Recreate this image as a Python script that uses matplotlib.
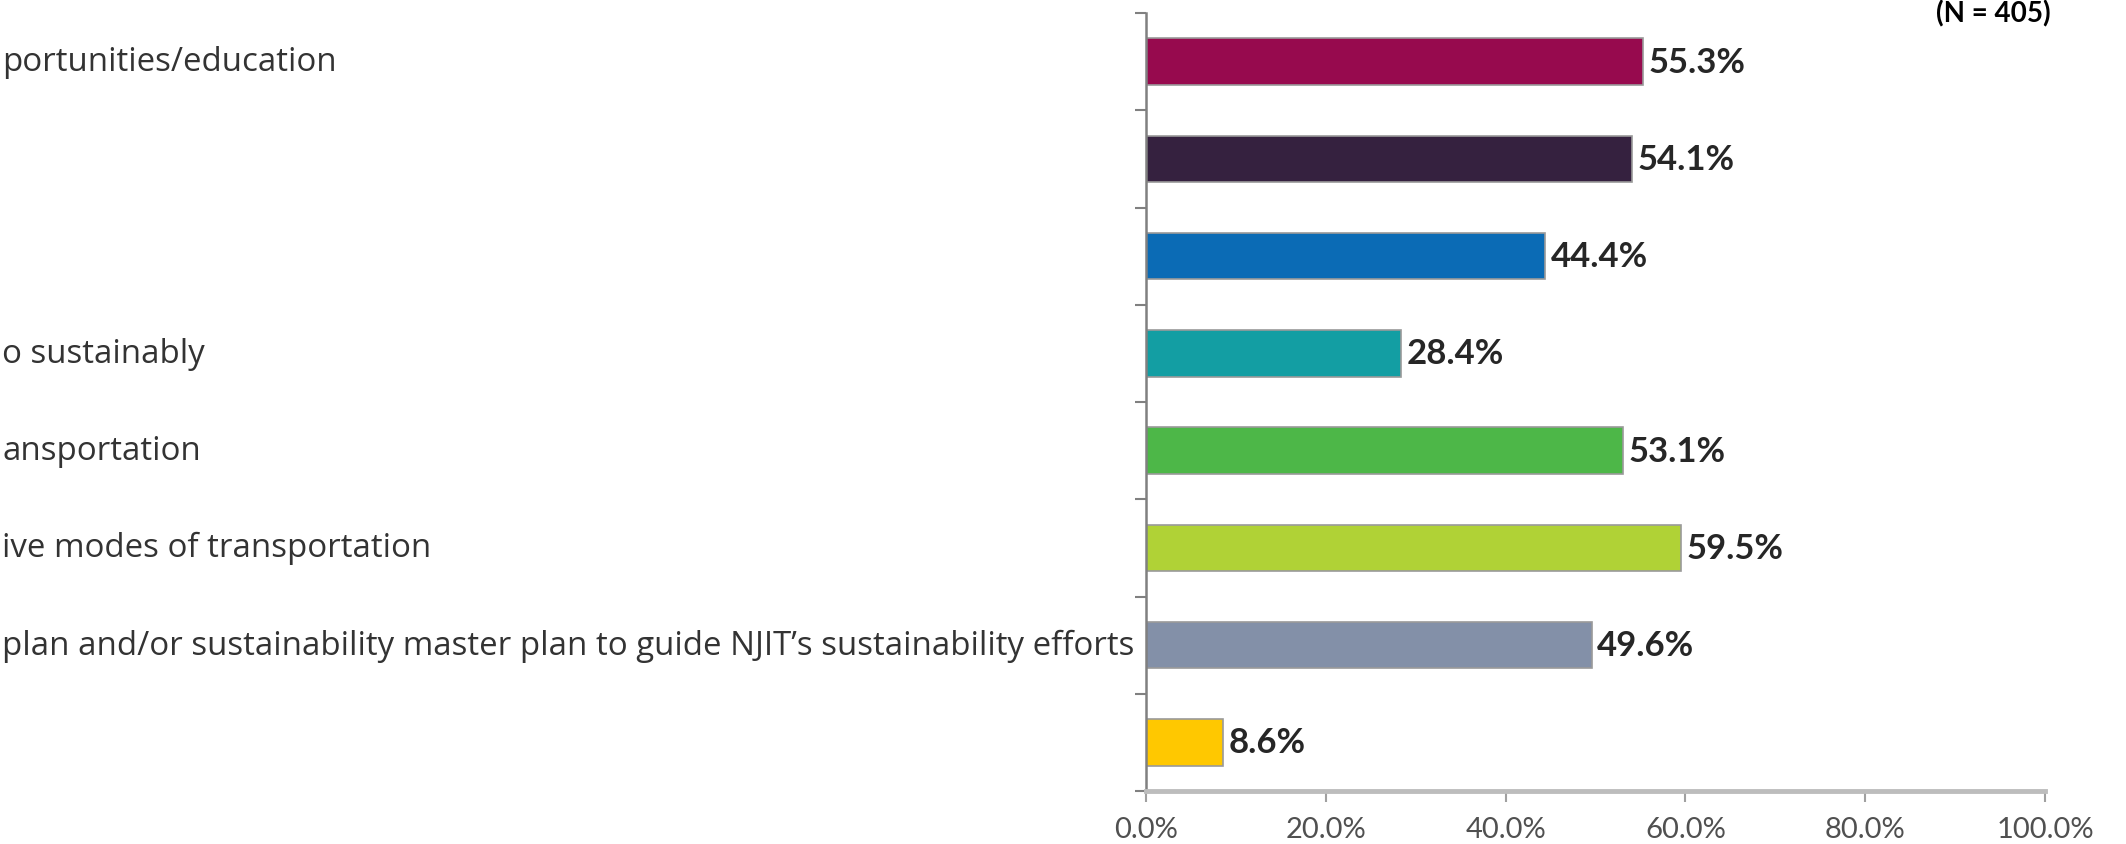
import numpy as np
import matplotlib.pyplot as plt

# Datos (de arriba hacia abajo)
etiquetas = ["portunities/education", "", "", "o sustainably", "ansportation",
             "ive modes of transportation",
             "plan and/or sustainability master plan to guide NJIT\u2019s sustainability efforts",
             ""]
valores = [55.3, 54.1, 44.4, 28.4, 53.1, 59.5, 49.6, 8.6]
colores = ["#970A4E", "#35213F", "#0B6BB5", "#139EA3", "#4DB748", "#B0D236", "#8390A8", "#FFC800"]
ticks_x = [0, 20, 40, 60, 80, 100]
nota = "(N = 405)"

plt.rcParams['font.family'] = ['Lato', 'DejaVu Sans']

fig = plt.figure(figsize=(21.26, 8.45), dpi=100)
ax = fig.add_axes([1146/2126, 1 - 792/845, (2045-1146)/2126, (792-14)/845])

y = np.arange(len(valores))
ax.barh(y, valores, height=0.48, color=colores, edgecolor="#9A9A9A", linewidth=1.2)
ax.set_ylim(len(valores) - 0.5, -0.5)
ax.set_xlim(0, 100)

# Etiquetas de valor
for yi, v in zip(y, valores):
    ax.text(v + 0.6, yi, f"{v:.1f}%", va="center", ha="left",
            fontsize=25, fontweight="bold", color="#262626")

# Ejes
ax.set_yticks(np.arange(len(valores) + 1) - 0.5)
ax.set_yticklabels([])
ax.tick_params(axis="y", length=8, width=1.5, color="#808080", direction="out")
ax.set_xticks(ticks_x)
ax.set_xticklabels([f"{t:.1f}%" for t in ticks_x], fontsize=21, color="#505050")
ax.tick_params(axis="x", length=8, width=1.5, color="#A0A0A0", pad=10)
for s in ["top", "right"]:
    ax.spines[s].set_visible(False)
ax.spines["left"].set_color("#808080")
ax.spines["left"].set_linewidth(1.8)
ax.spines["bottom"].set_color("#BDBDBD")
ax.spines["bottom"].set_linewidth(3.5)

# Etiquetas de categoría (alineadas al borde izquierdo de la figura)
for yi, lab in zip(y, etiquetas):
    if lab:
        ax.annotate(lab, xy=(2/2126, yi), xycoords=("figure fraction", "data"),
                    fontsize=23.8, color="#333333", va="center", ha="left",
                    family=["Open Sans", "DejaVu Sans"], annotation_clip=False)

fig.text(1993/2126, 1 - 14/845, nota, fontsize=20, fontweight="bold",
         ha="center", va="center", color="black")

fig.savefig("out.png", dpi=100)
